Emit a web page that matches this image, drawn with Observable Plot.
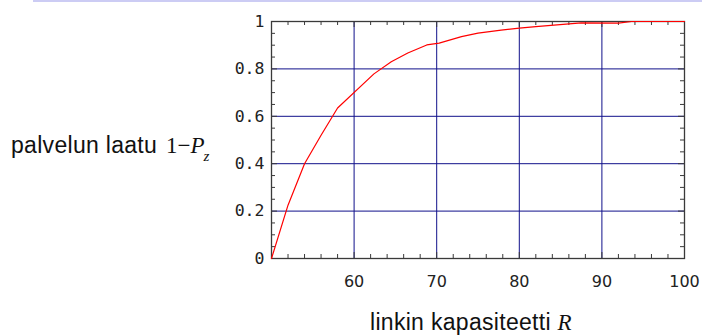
<!DOCTYPE html>
<html>
<head>
<meta charset="utf-8">
<script src="https://cdn.jsdelivr.net/npm/d3@7"></script>
<script src="https://cdn.jsdelivr.net/npm/@observablehq/plot@0.6"></script>
<style>
  html, body { margin: 0; padding: 0; background: #fff; }
  #wrap { position: relative; width: 702px; height: 336px; overflow: hidden; }
  #band { position: absolute; left: 33px; top: 0; width: 669px; height: 2px; background: #ccccf4; }
</style>
</head>
<body>
<div id="wrap"><div id="band"></div></div>
<script>
// Data
const capacity = [50, 52, 54, 56, 58, 62.4, 64.5, 66.5, 68.8, 70.3, 73, 75, 77.8, 80, 82, 87.5, 92, 93.6, 100];
const quality  = [0, 0.225, 0.40, 0.52, 0.635, 0.779, 0.83, 0.867, 0.901, 0.909, 0.936, 0.951, 0.964, 0.972, 0.978, 0.994, 0.993, 1.0, 1.0];

const xTicks = [60, 70, 80, 90, 100];
const xTickLabels = ["60", "70", "80", "90", "100"];
const yTicks = [0, 0.2, 0.4, 0.6, 0.8, 1];
const yTickLabels = ["0", "0.2", "0.4", "0.6", "0.8", "1"];
const xGrid = [60, 70, 80, 90];
const yGrid = [0.2, 0.4, 0.6, 0.8];
const xMinor = [52, 54, 56, 58, 62, 64, 66, 68, 72, 74, 76, 78, 82, 84, 86, 88, 92, 94, 96, 98];
const xMajor = [50, 60, 70, 80, 90, 100];
const yMinor = [0.05, 0.1, 0.15, 0.25, 0.3, 0.35, 0.45, 0.5, 0.55, 0.65, 0.7, 0.75, 0.85, 0.9, 0.95];
const yMajor = [0, 0.2, 0.4, 0.6, 0.8, 1];

const data = capacity.map((c, i) => ({c, q: quality[i]}));
const frameColor = "#3a3a3a";
const gridColor = "#10108a";

const W = 702, H = 336, mL = 271, mR = 18, mT = 21, mB = 78;
const fw = W - mL - mR, fh = H - mT - mB;

// inward ticks on all four sides (insets leave only a short stub at the frame edge)
const tickMarks = [
  Plot.tickX(xMinor, {x: d => d, insetTop: fh - 4, stroke: frameColor}),
  Plot.tickX(xMinor, {x: d => d, insetBottom: fh - 4, stroke: frameColor}),
  Plot.tickX(xMajor, {x: d => d, insetTop: fh - 6, stroke: frameColor}),
  Plot.tickX(xMajor, {x: d => d, insetBottom: fh - 6, stroke: frameColor}),
  Plot.tickY(yMinor, {y: d => d, insetRight: fw - 4, stroke: frameColor}),
  Plot.tickY(yMinor, {y: d => d, insetLeft: fw - 4, stroke: frameColor}),
  Plot.tickY(yMajor, {y: d => d, insetRight: fw - 6, stroke: frameColor}),
  Plot.tickY(yMajor, {y: d => d, insetLeft: fw - 6, stroke: frameColor})
];

const chart = Plot.plot({
  width: W,
  height: H,
  marginLeft: mL,
  marginRight: mR,
  marginTop: mT,
  marginBottom: mB,
  x: {domain: [50, 100], label: null},
  y: {domain: [0, 1], label: null},
  style: {background: "transparent", overflow: "visible"},
  marks: [
    Plot.ruleX(xGrid, {stroke: gridColor, strokeWidth: 1}),
    Plot.ruleY(yGrid, {stroke: gridColor, strokeWidth: 1}),
    ...tickMarks,
    Plot.frame({stroke: frameColor, strokeWidth: 1.3}),
    Plot.axisX(xTicks, {
      anchor: "bottom", tickSize: 0, tickPadding: 17, label: null,
      tickFormat: d => xTickLabels[xTicks.indexOf(d)],
      fontFamily: "DejaVu Sans", fontSize: 16, fill: "#222"
    }),
    Plot.axisY(yTicks, {
      anchor: "left", tickSize: 0, tickPadding: 7, label: null,
      tickFormat: d => yTickLabels[yTicks.indexOf(d)],
      fontFamily: "DejaVu Sans Mono", fontSize: 16.5, fill: "#222"
    }),
    Plot.line(data, {x: "c", y: "q", stroke: "red", strokeWidth: 1.2})
  ]
});

document.getElementById("wrap").appendChild(chart);

// Axis titles with mixed fonts
const svg = d3.select(chart);
const yLab = svg.append("text")
  .attr("x", 11).attr("y", 153)
  .attr("text-anchor", "start")
  .attr("fill", "#111")
  .style("font-family", "Liberation Sans, Arial, sans-serif")
  .style("font-size", "23px")
  .style("letter-spacing", "0.3px");
yLab.append("tspan").text("palvelun laatu ");
yLab.append("tspan").attr("x", 166)
  .style("font-family", "Liberation Serif, Times New Roman, serif")
  .style("letter-spacing", "0px")
  .text("1\u2212");
yLab.append("tspan")
  .style("font-family", "Liberation Serif, Times New Roman, serif")
  .style("font-style", "italic")
  .style("letter-spacing", "0px")
  .text("P");
yLab.append("tspan")
  .attr("dy", 8).attr("dx", -1)
  .style("font-family", "Liberation Serif, Times New Roman, serif")
  .style("font-style", "italic")
  .style("font-size", "15px")
  .text("z");

const xLab = svg.append("text")
  .attr("x", 370).attr("y", 330)
  .attr("text-anchor", "start")
  .attr("fill", "#111")
  .style("font-family", "Liberation Sans, Arial, sans-serif")
  .style("font-size", "23px")
  .style("letter-spacing", "0.3px");
xLab.append("tspan").text("linkin kapasiteetti ");
xLab.append("tspan")
  .style("font-family", "Liberation Serif, Times New Roman, serif")
  .style("font-style", "italic")
  .style("letter-spacing", "0px")
  .text("R");
</script>
</body>
</html>
